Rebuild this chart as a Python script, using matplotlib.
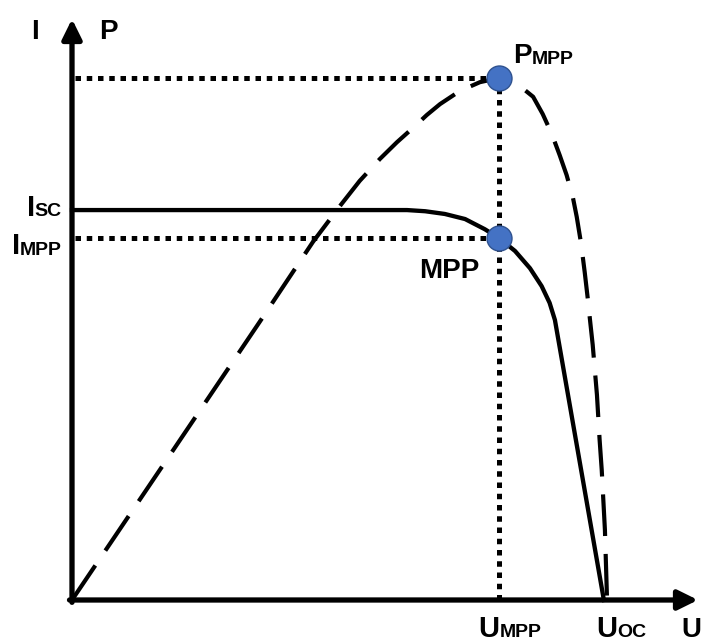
import numpy as np
import matplotlib.pyplot as plt

## Donnees (U en % de Uoc, I en % de Isc, P en % de Pmpp)
u_iv = [0, 63.0, 66.4, 70.1, 73.9, 77.6, 80.3, 83.3, 86.1, 88.3, 89.8, 90.8, 100]
i_iv = [100, 100, 99.7, 99.0, 97.7, 95.1, 92.8, 89.5, 85.1, 80.5, 76.2, 71.8, 0]

u_p = [0, 16.5, 35.3, 45.3, 50.4, 54.1, 57.9, 61.1, 64.5, 66.7,
       69.2, 72.9, 76.7, 80.3, 83.3, 86.7, 88.5, 90.2, 91.7, 93.0,
       94.2, 94.9, 95.7, 96.4, 97.0, 97.4, 97.9, 98.7, 99.2, 99.6,
       100.2, 100.6]
p_p = [0, 24.9, 53.3, 68.6, 75.5, 80.3, 84.5, 87.7, 90.8, 92.9,
       95.0, 97.5, 99.2, 100, 99.2, 96.4, 93.1, 89.3, 85.2, 81.4,
       77.0, 73.4, 68.4, 62.8, 57.5, 53.6, 48.9, 39.3, 30.7, 24.9,
       13.4, 0]

u_mpp = 80.3
i_mpp = 92.8
p_mpp = 100

plt.rcParams['font.family'] = ['Liberation Sans', 'DejaVu Sans']
plt.rcParams['font.weight'] = 'bold'

fig = plt.figure(figsize=(7.05, 6.44), dpi=100)
ax = fig.add_axes([72/705, 44/644, 626/705, 581/644])
ax.set_xlim(0, 117.7)
ax.set_ylim(0, 149)
ax2 = ax.twinx()
ax2.set_ylim(0, 111.3)
ax.axis('off')
ax2.axis('off')

# axes avec fleches
arr = dict(arrowstyle='-|>,head_length=0.85,head_width=0.42', lw=3.8,
           color='k', shrinkA=0, shrinkB=0, mutation_scale=14)
ax.annotate('', xy=(1, 0), xytext=(-0.004, 0), xycoords='axes fraction', arrowprops=arr)
ax.annotate('', xy=(0, 1), xytext=(0, -0.004), xycoords='axes fraction', arrowprops=arr)

# courbe I(U)
ax.plot(u_iv, i_iv, color='k', lw=3.1, clip_on=False, solid_joinstyle='round')

# courbe P(U)
ax2.plot(u_p, p_p, color='k', lw=3.0, dashes=(10, 4.3), clip_on=False, dash_capstyle='butt')

# lignes pointillees
dots = dict(color='k', lw=3.6, dashes=(1.1, 1.15), clip_on=False)
ax.plot([0.5, u_mpp], [i_mpp, i_mpp], **dots)
ax2.plot([0.5, u_mpp], [p_mpp, p_mpp], **dots)
ax2.plot([u_mpp, u_mpp], [0, p_mpp], **dots)

# points MPP
mk = dict(marker='o', ms=18, mfc='#4472C4', mec='#2F528F', mew=1, ls='none', zorder=10, clip_on=False)
ax2.plot([u_mpp], [i_mpp], transform=ax.transData, **mk)
ax2.plot([u_mpp], [p_mpp], **mk)

# textes
def label(axe, x, y, main, sub, ha='left', size=21, dy=0):
    if ha == 'left':
        t = axe.text(x, y, main, fontsize=size, ha='left', va='baseline', fontweight='bold')
        axe.annotate(sub, xy=(1, y), xycoords=(t, axe.transData), xytext=(0, dy),
                     textcoords='offset points', fontsize=14, ha='left', va='baseline',
                     fontweight='bold')
    else:
        s = axe.text(x, y, sub, fontsize=14, ha='right', va='baseline', fontweight='bold')
        axe.annotate(main, xy=(0, y), xycoords=(s, axe.transData), xytext=(0, -dy),
                     textcoords='offset points', fontsize=size, ha='right', va='baseline',
                     fontweight='bold')

ax.text(-6.95, 143.8, 'I', fontsize=20, ha='center', va='baseline')
ax.text(5.1, 143.8, 'P', fontsize=20, ha='left', va='baseline')
label(ax, -1.9, 98.5, 'I', 'SC', ha='right')
label(ax, -1.9, 88.5, 'I', 'MPP', ha='right', dy=-1)
ax.text(76.7, 82.6, 'MPP', fontsize=20, ha='right', va='baseline')
label(ax2, 82.9, 102.9, 'P', 'MPP', size=20, dy=-1)
label(ax, 76.4, -9.6, 'U', 'MPP')
label(ax, 98.6, -9.6, 'U', 'OC')
ax.text(114.6, -9.6, 'U', fontsize=20, ha='left', va='baseline')

fig.savefig('out.png', dpi=100)
